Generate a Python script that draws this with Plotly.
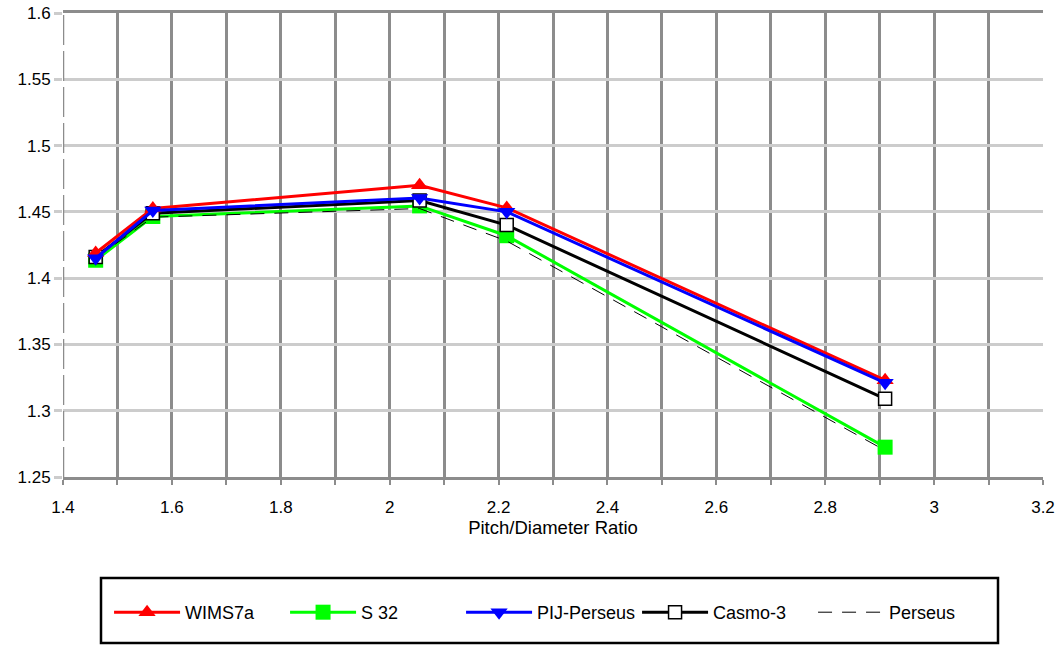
import plotly.graph_objects as go

pitch = [1.46, 1.565, 2.055, 2.215, 2.91]
wims7a = [1.419, 1.4525, 1.470, 1.453, 1.323]
s32 = [1.4135, 1.4465, 1.4545, 1.432, 1.2725]
pij_perseus = [1.415, 1.451, 1.4605, 1.450, 1.321]
casmo3 = [1.416, 1.449, 1.4585, 1.440, 1.309]
perseus = [1.415, 1.446, 1.4525, 1.428, 1.270]

x_ticks = [1.4, 1.6, 1.8, 2.0, 2.2, 2.4, 2.6, 2.8, 3.0, 3.2]
x_tick_text = ["1.4", "1.6", "1.8", "2", "2.2", "2.4", "2.6", "2.8", "3", "3.2"]
y_ticks = [1.25, 1.3, 1.35, 1.4, 1.45, 1.5, 1.55, 1.6]
y_tick_text = ["1.25", "1.3", "1.35", "1.4", "1.45", "1.5", "1.55", "1.6"]

fig = go.Figure()

fig.add_trace(go.Scatter(x=pitch, y=s32, name="S 32", mode="lines+markers",
                         line=dict(color="#00ff00", width=3),
                         marker=dict(symbol="square", size=15, color="#00ff00"),
                         legendrank=2))
fig.add_trace(go.Scatter(x=pitch, y=perseus, name="Perseus", mode="lines",
                         line=dict(color="black", width=1, dash="14px,10px"),
                         legendrank=5))
fig.add_trace(go.Scatter(x=pitch, y=casmo3, name="Casmo-3", mode="lines+markers",
                         line=dict(color="black", width=3),
                         marker=dict(symbol="square", size=13, color="white",
                                     line=dict(color="black", width=1.5)),
                         legendrank=4))
fig.add_trace(go.Scatter(x=pitch, y=wims7a, name="WIMS7a", mode="lines+markers",
                         line=dict(color="#ff0000", width=3),
                         marker=dict(symbol="triangle-up", size=15, color="#ff0000"),
                         legendrank=1))
fig.add_trace(go.Scatter(x=pitch, y=pij_perseus, name="PIJ-Perseus", mode="lines+markers",
                         line=dict(color="#0000ff", width=3),
                         marker=dict(symbol="triangle-down", size=15, color="#0000ff"),
                         legendrank=3))

font_family = "Liberation Sans, Arial, sans-serif"

fig.update_layout(
    width=1057, height=645,
    margin=dict(l=63, r=14, t=13, b=168, autoexpand=False),
    paper_bgcolor="white", plot_bgcolor="white",
    font=dict(family=font_family, size=17, color="black"),
    xaxis=dict(range=[1.4, 3.2], tickvals=x_ticks, ticktext=x_tick_text,
               showgrid=True, gridcolor="#8c8c8c", gridwidth=2.5,
               minor=dict(dtick=0.1, showgrid=True, gridcolor="#8c8c8c", gridwidth=2.5,
                          ticks="outside", ticklen=5, tickcolor="#8c8c8c", tickwidth=2),
               ticks="outside", ticklen=5, tickcolor="#8c8c8c", tickwidth=2,
               ticklabelstandoff=8,
               showline=True, linecolor="#8c8c8c", linewidth=3, mirror=True,
               zeroline=False, automargin=False,
               title=dict(text="Pitch/Diameter Ratio", font=dict(size=18.5), standoff=0),
               tickfont=dict(size=17)),
    yaxis=dict(range=[1.25, 1.6], tickvals=y_ticks, ticktext=y_tick_text,
               showgrid=True, gridcolor="#cccccc", gridwidth=2.5,
               ticks="outside", ticklen=8, tickcolor="#cccccc", tickwidth=2.5,
               showline=False, zeroline=False, automargin=False,
               tickfont=dict(size=17)),
    showlegend=True,
    legend=dict(orientation="h", x=0.047, xanchor="left", y=-0.292, yanchor="middle",
                entrywidth=95, entrywidthmode="pixels",
                bgcolor="rgba(0,0,0,0)", borderwidth=0,
                font=dict(size=18), itemwidth=66),
    shapes=[
        dict(type="line", xref="x", yref="y", x0=1.4, x1=1.4, y0=1.25, y1=1.6,
             line=dict(color="#8c8c8c", width=2.5, dash="30px,6px"), layer="above"),
        dict(type="rect", xref="paper", yref="paper",
             x0=(101 - 63) / 980, x1=(998 - 63) / 980,
             y0=(477 - 643) / 464, y1=(477 - 578) / 464,
             line=dict(color="black", width=2.5), fillcolor="rgba(0,0,0,0)"),
    ],
)

fig.write_html("out.html", config={"displayModeBar": False},
               post_script="document.body.style.margin='0';document.body.style.overflow='hidden';")
